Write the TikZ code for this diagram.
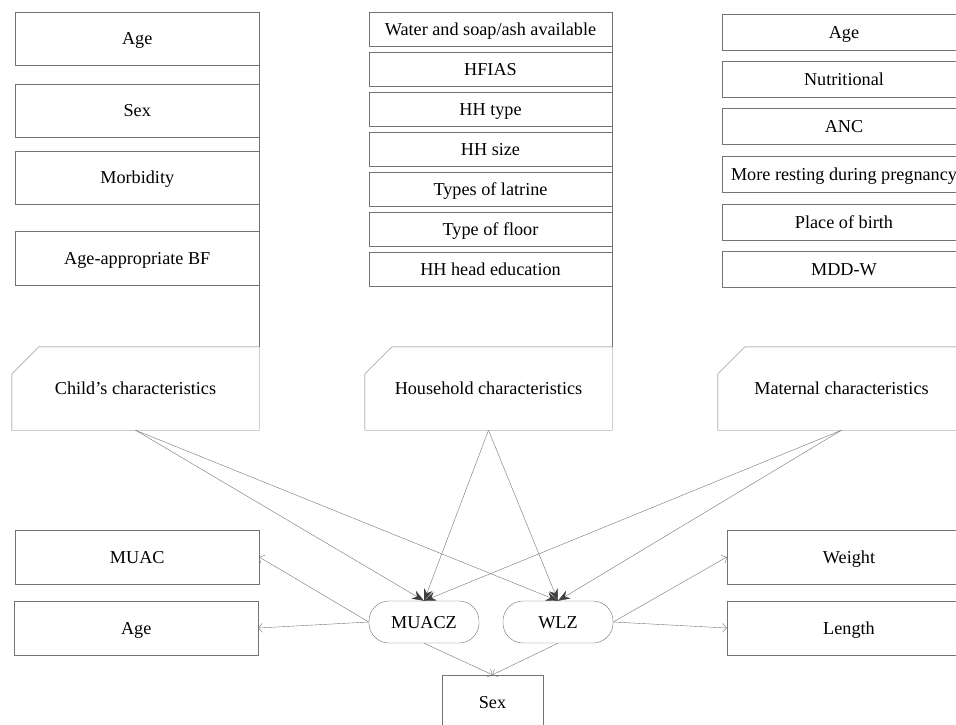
\documentclass[tikz,border=0pt]{standalone}
\usepackage{fontspec}
\setmainfont{Liberation Serif}
\usetikzlibrary{arrows.meta}

\begin{document}
\begin{tikzpicture}[x=1pt,y=-1pt,
        every node/.style={text height=12pt,text depth=0pt},
        box/.style={draw=black!55,inner sep=0pt,minimum height=#1},
        box/.default=54pt,
        card/.style={inner sep=0pt,minimum width=247pt,minimum height=83pt},
        zbox/.style={draw=black!55,rounded corners=20pt,inner sep=0pt,minimum width=110pt,minimum height=42pt},
        inarrow/.style={draw=black!55,-{Stealth[length=12pt,width=9pt,color=black!75]}},
        outarrow/.style={draw=black!55,-{Straight Barb[length=4pt,width=9pt]}}]
    \clip (0, 0) rectangle (956, 724);
    \fontsize{18.2}{21}\selectfont

    % child
    \node[box=52.5pt,minimum width=243.5pt] (cage) at (137.25, 38.75) { Age };
    \node[box=53pt,minimum width=243.5pt] (csex) at (137.25, 110.5) { Sex };
    \node[box=53pt,minimum width=243.5pt] (cmorb) at (137.25, 177.5) { Morbidity };
    \node[box=54pt,minimum width=243.5pt] (cbf) at (137.25, 258) { Age-appropriate BF };
    \node[card] (child) at (135.5, 388.5) { Child's characteristics };

    % household
    \node[box=34pt,minimum width=243pt] (hwater) at (490.5, 29.25) { Water and soap/ash available };
    \node[box=34pt,minimum width=243pt] (hfias) at (490.5, 69) { HFIAS };
    \node[box=34pt,minimum width=243pt] (htype) at (490.5, 109) { HH type };
    \node[box=34pt,minimum width=243pt] (hsize) at (490.5, 149) { HH size };
    \node[box=34pt,minimum width=243pt] (hlat) at (490.5, 189) { Types of latrine };
    \node[box=34pt,minimum width=243pt] (hfloor) at (490.5, 229) { Type of floor };
    \node[box=34pt,minimum width=243pt] (hedu) at (490.5, 269) { HH head education };
    \node[card] (house) at (488.5, 388.5) { Household characteristics };

    % maternal
    \node[box=36pt,minimum width=244pt] (mage) at (844, 32) { Age };
    \node[box=36pt,minimum width=244pt] (mnut) at (844, 79) { Nutritional };
    \node[box=36pt,minimum width=244pt] (manc) at (844, 126.5) { ANC };
    \node[box=36pt,minimum width=244pt] (mrest) at (844, 174) { More resting during pregnancy };
    \node[box=36pt,minimum width=244pt] (mbirth) at (844, 222) { Place of birth };
    \node[box=36pt,minimum width=244pt] (mmdd) at (844, 269) { MDD-W };
    \node[card] (mat) at (841.5, 388.5) { Maternal characteristics };

    \foreach \c/\t in {child/cage, house/hwater, mat/mage} {
        \draw[black!55] (\c.south west) -- (\c.south east) -- (\t.north east |- \c.north)
            -- ([xshift=27pt]\c.north west) -- ([yshift=-27pt]\c.north west) -- cycle;
        \draw[black!55] (\t.north east) -- (\t.north east |- \c.north);
    }

    % outcomes
    \node[box,minimum width=243.5pt] (muac) at (137.25, 557) { MUAC };
    \node[box,minimum width=243.5pt] (oage) at (136.25, 628) { Age };
    \node[zbox] (muacz) at (424, 622) { MUACZ };
    \node[zbox] (wlz) at (558, 622) { WLZ };
    \node[box,minimum width=244pt] (weight) at (849, 557) { Weight };
    \node[box,minimum width=244pt] (length) at (849, 628) { Length };
    \node[box,minimum width=101pt] (osex) at (492.5, 702) { Sex };

    \foreach \c in {child, house, mat} {
        \draw[inarrow] (\c.south) -- (muacz.north);
        \draw[inarrow] (\c.south) -- (wlz.north);
    }

    \draw[outarrow] (muacz.west) -- (muac.east);
    \draw[outarrow] (muacz.west) -- (oage.east);
    \draw[outarrow] (muacz.south) -- (osex.north);
    \draw[outarrow] (wlz.east) -- (weight.west);
    \draw[outarrow] (wlz.east) -- (length.west);
    \draw[outarrow] (wlz.south) -- (osex.north);
\end{tikzpicture}
\end{document}
